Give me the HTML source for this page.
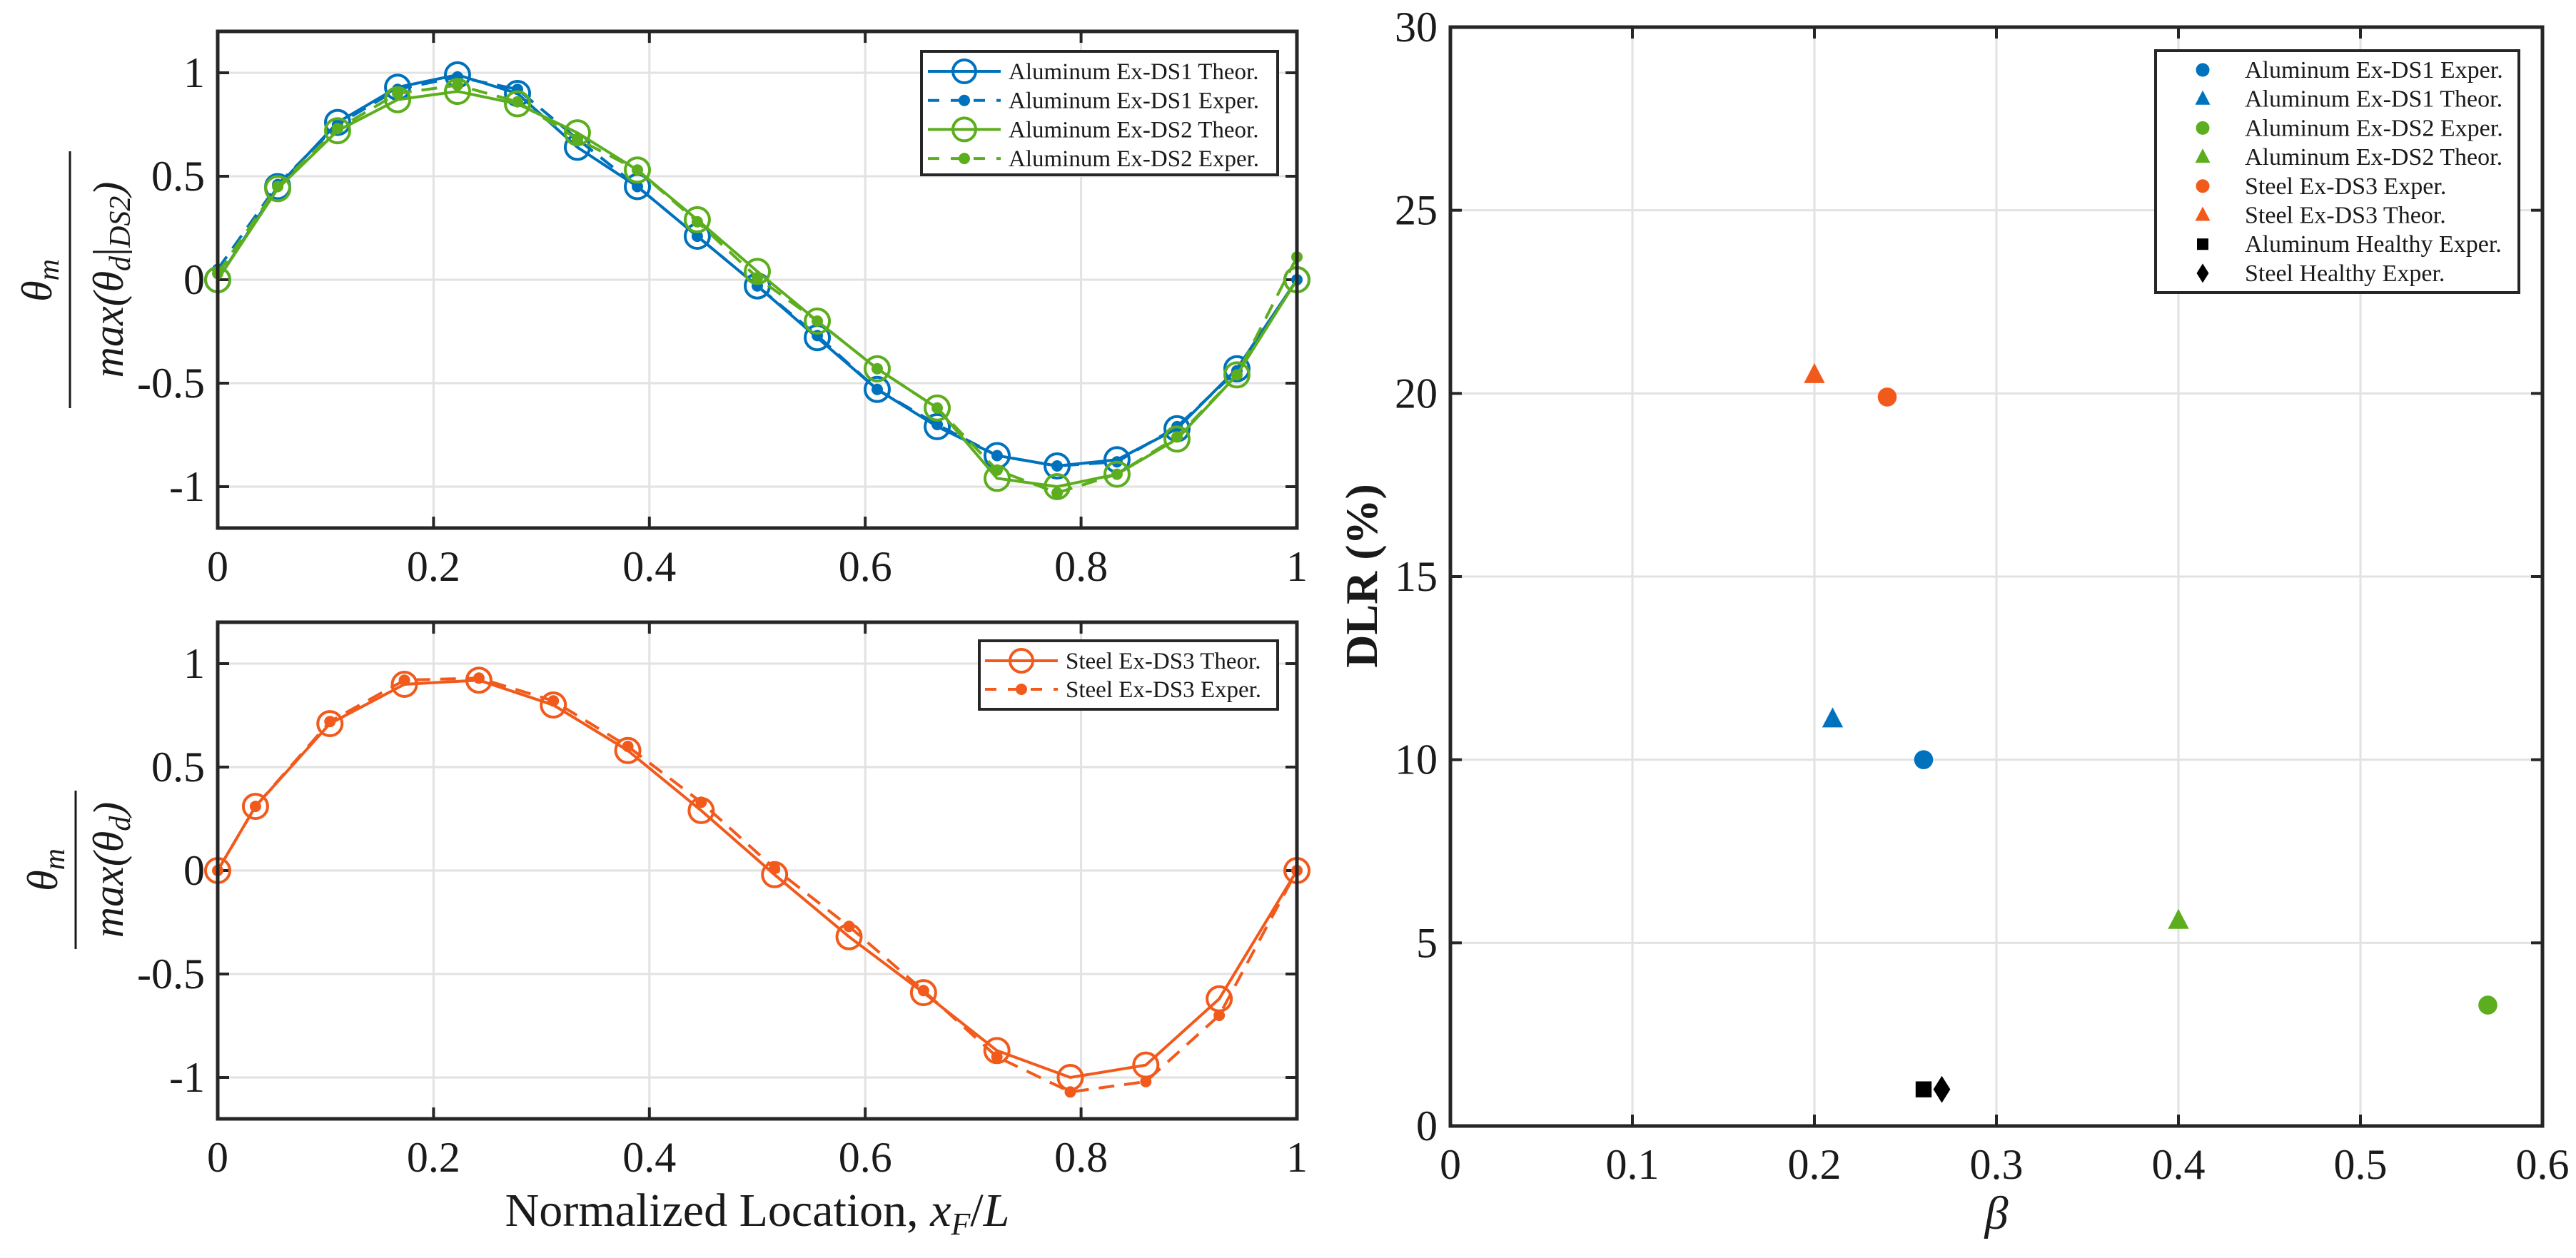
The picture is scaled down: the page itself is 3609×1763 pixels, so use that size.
<!DOCTYPE html>
<html><head><meta charset="utf-8"><style>
html,body{margin:0;padding:0;background:#fff}
svg{display:block}
text{font-family:"Liberation Serif",serif;fill:#1a1a1a}
</style></head><body>
<svg id="s" xmlns="http://www.w3.org/2000/svg" width="3609" height="1763" viewBox="0 0 3609 1763">
<rect width="3609" height="1763" fill="#fff"/>
<g id="g"></g>
</svg>
<script>
// ---- Top-left data ----
const topX = [0,0.0556,0.1111,0.1667,0.2222,0.2778,0.3333,0.3889,0.4444,0.5,0.5556,0.6111,0.6667,0.7222,0.7778,0.8333,0.8889,0.9444,1];
const ds1Theor = [0,0.45,0.76,0.93,0.99,0.9,0.64,0.45,0.21,-0.03,-0.28,-0.53,-0.71,-0.85,-0.9,-0.87,-0.72,-0.43,0];
const ds1Exper = [0.05,0.46,0.75,0.92,0.98,0.92,0.68,0.45,0.21,-0.03,-0.27,-0.53,-0.7,-0.85,-0.9,-0.88,-0.71,-0.44,0];
const ds2Theor = [0,0.44,0.72,0.87,0.91,0.85,0.71,0.53,0.29,0.04,-0.2,-0.43,-0.62,-0.96,-1.0,-0.94,-0.77,-0.46,0];
const ds2Exper = [0.03,0.45,0.73,0.9,0.94,0.86,0.68,0.53,0.28,0.01,-0.2,-0.43,-0.62,-0.92,-1.03,-0.94,-0.76,-0.46,0.11];
// ---- Bottom-left data ----
const botX = [0,0.035,0.104,0.173,0.242,0.311,0.38,0.448,0.516,0.585,0.654,0.722,0.79,0.86,0.928,1.0];
const ds3Theor = [0,0.31,0.71,0.9,0.92,0.8,0.58,0.29,-0.02,-0.32,-0.59,-0.87,-1.0,-0.94,-0.62,0];
const ds3Exper = [0,0.31,0.72,0.92,0.93,0.82,0.6,0.33,0.01,-0.27,-0.58,-0.9,-1.07,-1.02,-0.7,0];
// ---- Right scatter data ----
const scatterNames = ["Aluminum Ex-DS1 Exper.","Aluminum Ex-DS1 Theor.","Aluminum Ex-DS2 Exper.","Aluminum Ex-DS2 Theor.","Steel Ex-DS3 Exper.","Steel Ex-DS3 Theor.","Aluminum Healthy Exper.","Steel Healthy Exper."];
const scatterBeta = [0.26,0.21,0.57,0.40,0.24,0.20,0.26,0.27];
const scatterDLR = [10,11.1,3.3,5.6,19.9,20.5,1,1];
const leftXTicks = [0,0.2,0.4,0.6,0.8,1];
const leftXTickLabels = ["0","0.2","0.4","0.6","0.8","1"];
const leftYTicks = [-1,-0.5,0,0.5,1];
const leftYTickLabels = ["-1","-0.5","0","0.5","1"];
const rightXTicks = [0,0.1,0.2,0.3,0.4,0.5,0.6];
const rightXTickLabels = ["0","0.1","0.2","0.3","0.4","0.5","0.6"];
const rightYTicks = [0,5,10,15,20,25,30];
const rightYTickLabels = ["0","5","10","15","20","25","30"];

const BLUE="#0072BD", GREEN="#5DAE1E", ORANGE="#F25A1C", AX="#262626", GRID="#e2e2e2";
const G=document.getElementById('g');
const NS="http://www.w3.org/2000/svg";
function mk(tag,attrs,parent){const e=document.createElementNS(NS,tag);for(const k in attrs)e.setAttribute(k,attrs[k]);(parent||G).appendChild(e);return e;}
function txt(s,x,y,size,anchor,parent,extra){const t=mk('text',Object.assign({x:x,y:y,'font-size':size,'text-anchor':anchor||'middle'},extra||{}),parent);t.textContent=s;return t;}

function axes(name,L,R,T,B,xs,ys,xTicks,xLabels,yTicks,yLabels){
  const g=mk('g',{});
  
  
  xTicks.forEach((v,i)=>{const x=xs(v);
    const l=mk('line',{x1:x,x2:x,y1:T,y2:B,stroke:GRID,'stroke-width':3},g);
    
    mk('line',{x1:x,x2:x,y1:B,y2:B-16,stroke:AX,'stroke-width':4},g);
    mk('line',{x1:x,x2:x,y1:T,y2:T+16,stroke:AX,'stroke-width':4},g);
    const t=txt(xLabels[i],x,B+74,60,'middle',g);
    
  });
  yTicks.forEach((v,i)=>{const y=ys(v);
    const l=mk('line',{x1:L,x2:R,y1:y,y2:y,stroke:GRID,'stroke-width':3},g);
    
    mk('line',{x1:L,x2:L+16,y1:y,y2:y,stroke:AX,'stroke-width':4},g);
    mk('line',{x1:R,x2:R-16,y1:y,y2:y,stroke:AX,'stroke-width':4},g);
    const t=txt(yLabels[i],L-18,y+20,60,'end',g);
    
  });
  return g;
}
function frame(L,R,T,B){const r=mk('rect',{x:L,y:T,width:R-L,height:B-T,fill:'none',stroke:AX,'stroke-width':5});
  }

function series(name,xv,yv,xs,ys,color,dashed,marker){
  const g=mk('g',{});
  
  
  const pts=xv.map((x,i)=>xs(x)+','+ys(yv[i])).join(' ');
  const pl=mk('polyline',{points:pts,fill:'none',stroke:color,'stroke-width':4,'stroke-dasharray':dashed?'22 14':'none'},g);
  
  xv.forEach((x,i)=>{
    let c;
    if(marker==='o') c=mk('circle',{cx:xs(x),cy:ys(yv[i]),r:17,fill:'none',stroke:color,'stroke-width':4},g);
    else c=mk('circle',{cx:xs(x),cy:ys(yv[i]),r:8,fill:color},g);
    
  });
}

// ===== Top-left =====
const tL=305,tR=1817,tT=44,tB=740;
const txs=v=>tL+v*(tR-tL), tys=v=>392-v*290;
axes('top-axes',tL,tR,tT,tB,txs,tys,leftXTicks,leftXTickLabels,leftYTicks,leftYTickLabels);
series('ds1-theor',topX,ds1Theor,txs,tys,BLUE,false,'o');
series('ds1-exper',topX,ds1Exper,txs,tys,BLUE,true,'.');
series('ds2-theor',topX,ds2Theor,txs,tys,GREEN,false,'o');
series('ds2-exper',topX,ds2Exper,txs,tys,GREEN,true,'.');
frame(tL,tR,tT,tB);

// ===== Bottom-left =====
const bL=305,bR=1817,bT=872,bB=1568;
const bxs=v=>bL+v*(bR-bL), bys=v=>1220-v*290;
axes('bottom-axes',bL,bR,bT,bB,bxs,bys,leftXTicks,leftXTickLabels,leftYTicks,leftYTickLabels);
series('ds3-theor',botX,ds3Theor,bxs,bys,ORANGE,false,'o');
series('ds3-exper',botX,ds3Exper,bxs,bys,ORANGE,true,'.');
frame(bL,bR,bT,bB);

// ===== Right =====
const rL=2032,rR=3562,rT=38,rB=1578;
const rxs=v=>rL+v/0.6*(rR-rL), rys=v=>rB-v/30*(rB-rT);
axes('right-axes',rL,rR,rT,rB,rxs,rys,rightXTicks,rightXTickLabels,rightYTicks,rightYTickLabels);
const scColors=[BLUE,BLUE,GREEN,GREEN,ORANGE,ORANGE,'#000','#000'];
const scShapes=['o','^','o','^','o','^','s','d'];
function shape(sh,x,y,color,s,parent){
  if(sh==='o') return mk('circle',{cx:x,cy:y,r:s*0.95,fill:color},parent);
  if(sh==='^') return mk('polygon',{points:`${x},${y-s*1.2} ${x-s*1.05},${y+s*0.8} ${x+s*1.05},${y+s*0.8}`,fill:color},parent);
  if(sh==='s') return mk('rect',{x:x-s*0.8,y:y-s*0.8,width:s*1.6,height:s*1.6,fill:color},parent);
  return mk('polygon',{points:`${x},${y-s*1.35} ${x+s*0.85},${y} ${x},${y+s*1.35} ${x-s*0.85},${y}`,fill:color},parent);
}
scatterBeta.forEach((b,i)=>{
  const m=shape(scShapes[i],rxs(b),rys(scatterDLR[i]),scColors[i],14);
  
  
});
frame(rL,rR,rT,rB);

// ===== Legends =====
function legendBox(name,x,y,w,h){const r=mk('rect',{x:x,y:y,width:w,height:h,fill:'#fff',stroke:AX,'stroke-width':4});
  }
legendBox('top-legend',1291,72,499,173);
[['Aluminum Ex-DS1 Theor.',BLUE,false,'o'],['Aluminum Ex-DS1 Exper.',BLUE,true,'.'],['Aluminum Ex-DS2 Theor.',GREEN,false,'o'],['Aluminum Ex-DS2 Exper.',GREEN,true,'.']].forEach((e,i)=>{
  const y=100+i*40.7;const g=mk('g',{});
  
  mk('line',{x1:1300,x2:1402,y1:y,y2:y,stroke:e[1],'stroke-width':4,'stroke-dasharray':e[2]?'16 16':'none'},g);
  if(e[3]==='o') mk('circle',{cx:1351,cy:y,r:16,fill:'none',stroke:e[1],'stroke-width':4},g);
  else mk('circle',{cx:1351,cy:y,r:8,fill:e[1]},g);
  txt(e[0],1413,y+11,33,'start',g);
});
legendBox('bottom-legend',1372,898,418,96);
[['Steel Ex-DS3 Theor.',ORANGE,false,'o'],['Steel Ex-DS3 Exper.',ORANGE,true,'.']].forEach((e,i)=>{
  const y=926+i*40;const g=mk('g',{});
  
  mk('line',{x1:1380,x2:1482,y1:y,y2:y,stroke:e[1],'stroke-width':4,'stroke-dasharray':e[2]?'16 16':'none'},g);
  if(e[3]==='o') mk('circle',{cx:1431,cy:y,r:16,fill:'none',stroke:e[1],'stroke-width':4},g);
  else mk('circle',{cx:1431,cy:y,r:8,fill:e[1]},g);
  txt(e[0],1493,y+11,33,'start',g);
});
legendBox('right-legend',3020,71,509,339);
scatterNames.forEach((n,i)=>{
  const y=98+i*40.7;const g=mk('g',{});
  
  shape(scShapes[i],3086,y,scColors[i],10,g);
  txt(n,3145,y+11,34,'start',g);
});
</script>
<svg style="position:absolute;left:0;top:0" width="3609" height="1763">
<g font-family="Liberation Serif, serif" fill="#1a1a1a">
 <text x="1061" y="1718" font-size="66" text-anchor="middle">Normalized Location, <tspan font-style="italic">x</tspan><tspan font-style="italic" font-size="44" dy="12">F</tspan><tspan dy="-12">/</tspan><tspan font-style="italic">L</tspan></text>
 <text x="2797" y="1722" font-size="66" font-style="italic" text-anchor="middle">β</text>
 <text transform="translate(1929,807) rotate(-90)" font-size="64" font-weight="bold" text-anchor="middle">DLR (%)</text>
 <g>
  <text transform="translate(72,393) rotate(-90)" font-size="60" font-style="italic" text-anchor="middle">θ<tspan font-size="42" dy="10">m</tspan></text>
  <line x1="98" x2="98" y1="212" y2="572" stroke="#1a1a1a" stroke-width="3"/>
  <text transform="translate(172,392) rotate(-90)" font-size="60" font-style="italic" text-anchor="middle">max(θ<tspan font-size="42" dy="10">d</tspan><tspan dy="-10" font-style="normal">|</tspan><tspan font-size="42" dy="10">DS2</tspan><tspan dy="-10">)</tspan></text>
 </g>
 <g>
  <text transform="translate(80,1219) rotate(-90)" font-size="60" font-style="italic" text-anchor="middle">θ<tspan font-size="42" dy="10">m</tspan></text>
  <line x1="106" x2="106" y1="1108" y2="1330" stroke="#1a1a1a" stroke-width="3"/>
  <text transform="translate(172,1219) rotate(-90)" font-size="60" font-style="italic" text-anchor="middle">max(θ<tspan font-size="42" dy="10">d</tspan><tspan dy="-10">)</tspan></text>
 </g>
</g>
</svg>
</body></html>
